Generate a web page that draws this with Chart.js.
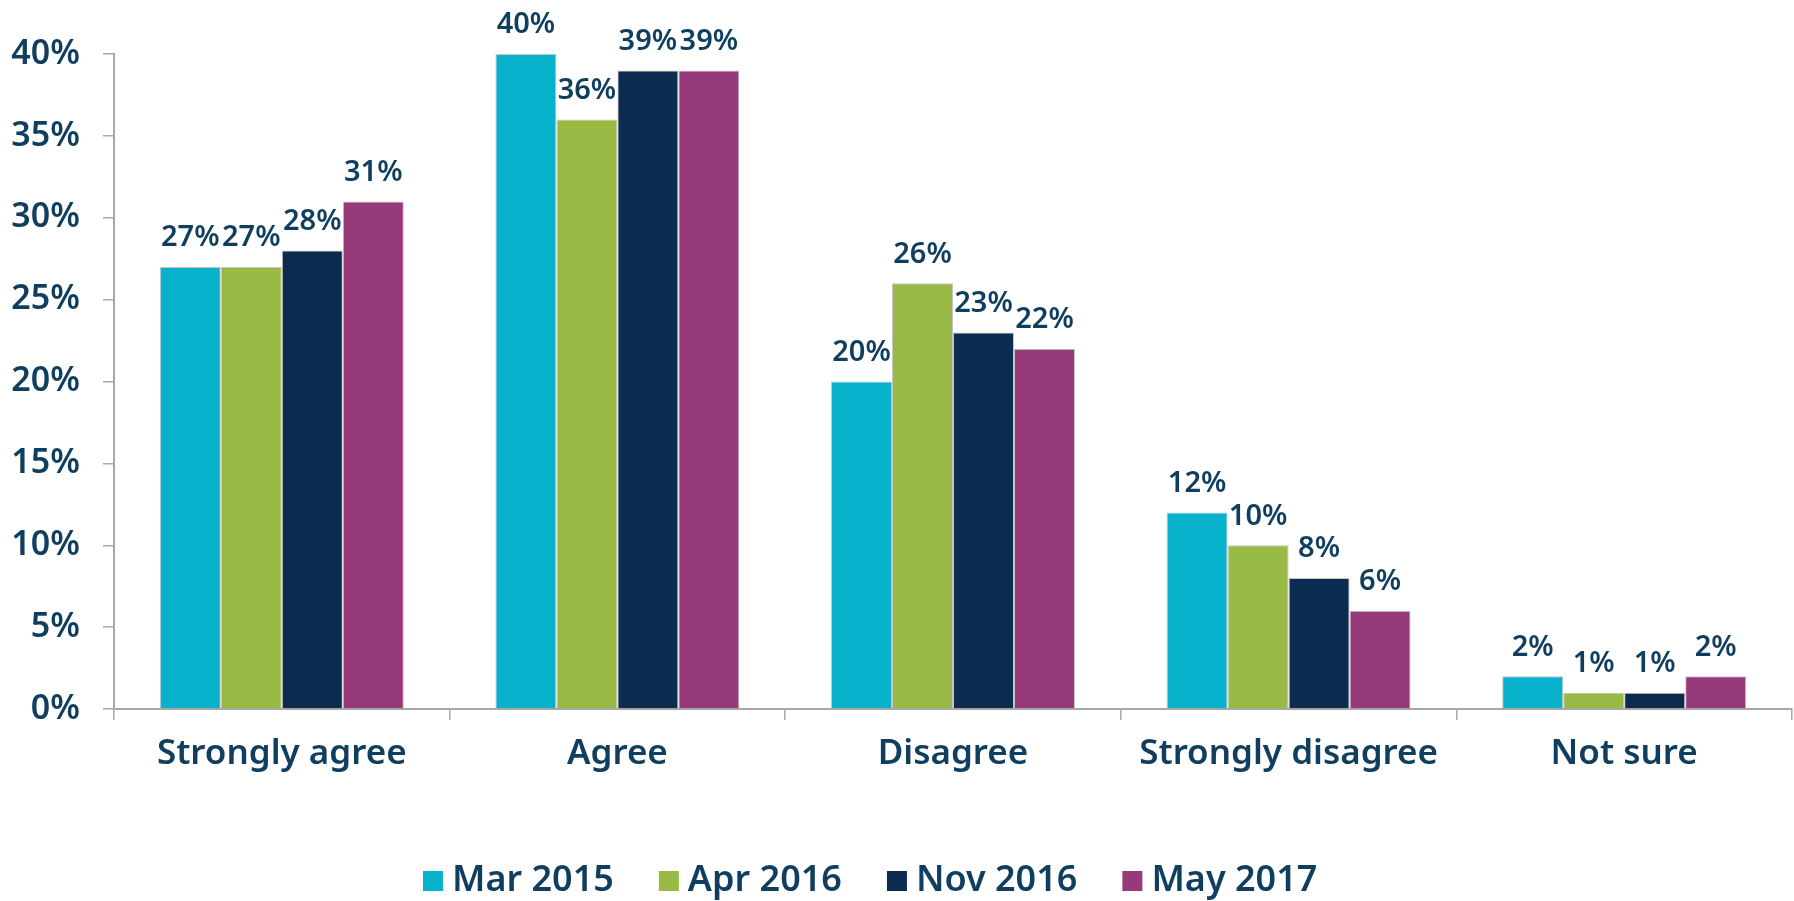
<!DOCTYPE html>
<html>
<head>
<meta charset="utf-8">
<script src="https://cdn.jsdelivr.net/npm/chart.js@4.4.1/dist/chart.umd.min.js"></script>
<style>
  body { margin: 0; background: #fff; }
  #wrap { width: 1794px; height: 901px; }
</style>
</head>
<body>
<div id="wrap"><canvas id="surveyChart" width="1794" height="901"></canvas></div>
<script>
const categories = ['Strongly agree', 'Agree', 'Disagree', 'Strongly disagree', 'Not sure'];
const seriesNames = ['Mar 2015', 'Apr 2016', 'Nov 2016', 'May 2017'];
const mar2015 = [27, 40, 20, 12, 2];
const apr2016 = [27, 36, 26, 10, 1];
const nov2016 = [28, 39, 23, 8, 1];
const may2017 = [31, 39, 22, 6, 2];
const yMax = 40;
const yStep = 5;

const colors = ['#08b1cc', '#98b944', '#0b2b4f', '#973a7a'];
const textColor = '#0f3e5e';
const axisColor = '#a8a8a8';
const fontFamily = '"Noto Sans", "DejaVu Sans", sans-serif';

// value labels above each bar
const barLabels = {
    id: 'barLabels',
    afterDatasetsDraw(chart) {
        const ctx = chart.ctx;
        ctx.save();
        ctx.font = '600 29px ' + fontFamily;
        ctx.fillStyle = textColor;
        ctx.textAlign = 'center';
        ctx.textBaseline = 'middle';
        chart.data.datasets.forEach((ds, i) => {
            chart.getDatasetMeta(i).data.forEach((bar, j) => {
                ctx.fillText(ds.data[j] + '%', bar.x, bar.y - 29);
            });
        });
        ctx.restore();
    }
};

// legend drawn by hand so box/text spacing matches
const bottomLegend = {
    id: 'bottomLegend',
    afterDraw(chart) {
        const ctx = chart.ctx;
        ctx.save();
        ctx.font = '600 36px ' + fontFamily;
        ctx.textBaseline = 'middle';
        ctx.textAlign = 'left';
        let x = 423;
        const y = 881;
        chart.data.datasets.forEach(ds => {
            ctx.fillStyle = ds.backgroundColor;
            ctx.fillRect(x, y - 10, 20, 20);
            ctx.fillStyle = textColor;
            ctx.fillText(ds.label, x + 29, y);
            x += 29 + ctx.measureText(ds.label).width + 45;
        });
        ctx.restore();
    }
};

const allSeries = [mar2015, apr2016, nov2016, may2017];

const ctx = document.getElementById('surveyChart').getContext('2d');
const surveyChart = new Chart(ctx, {
    type: 'bar',
    data: {
        labels: categories,
        datasets: allSeries.map((vals, i) => ({
            label: seriesNames[i],
            data: vals,
            backgroundColor: colors[i],
            borderColor: 'rgba(150,150,150,0.55)',
            borderWidth: 1,
            categoryPercentage: 0.727,
            barPercentage: 1.0
        }))
    },
    options: {
        responsive: false,
        animation: false,
        layout: {
            padding: { top: 54, right: 2, left: 0, bottom: 0 }
        },
        plugins: {
            legend: { display: false },
            tooltip: { enabled: false }
        },
        scales: {
            x: {
                grid: {
                    display: true,
                    drawOnChartArea: false,
                    tickLength: 11,
                    color: axisColor,
                    lineWidth: 1.5
                },
                border: { color: axisColor, width: 2 },
                ticks: {
                    color: textColor,
                    font: { family: fontFamily, size: 35, weight: '600' },
                    padding: 13
                },
                afterFit(scale) { scale.height = 192; }
            },
            y: {
                min: 0,
                max: yMax,
                grid: {
                    display: true,
                    drawOnChartArea: false,
                    tickLength: 11,
                    color: axisColor,
                    lineWidth: 1.5
                },
                border: { color: axisColor, width: 2 },
                ticks: {
                    stepSize: yStep,
                    color: textColor,
                    font: { family: fontFamily, size: 34, weight: '600' },
                    padding: 23,
                    callback: v => v + '%'
                },
                afterFit(scale) { scale.width = 114; }
            }
        }
    },
    plugins: [barLabels, bottomLegend]
});
</script>
</body>
</html>
